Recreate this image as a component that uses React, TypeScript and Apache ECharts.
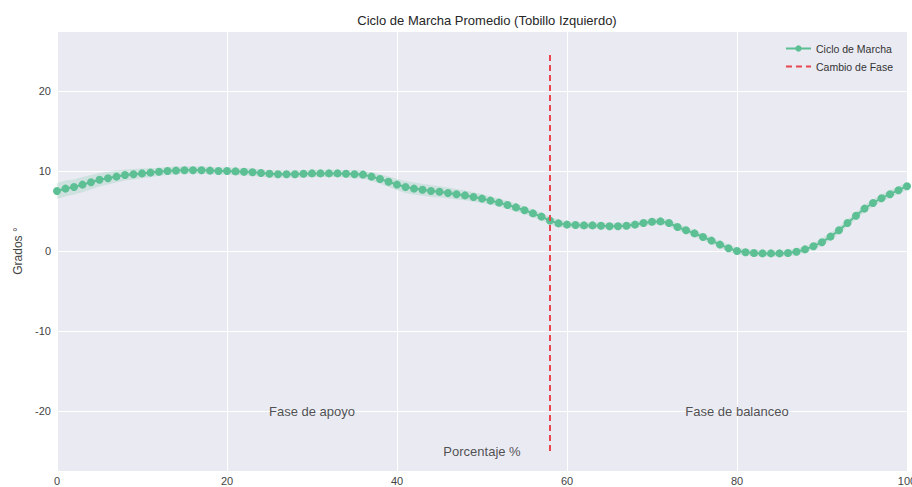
import React, { useEffect, useRef } from "react";
import * as echarts from "echarts";

const percent: number[] = Array.from({ length: 101 }, (_, i) => i);

const gradosMedia: number[] = [
  7.5, 7.8, 8.0, 8.3, 8.6, 8.9, 9.1, 9.3, 9.5, 9.6,
  9.7, 9.8, 9.9, 10.0, 10.05, 10.1, 10.1, 10.1, 10.05, 10.0,
  10.0, 9.95, 9.9, 9.85, 9.75, 9.65, 9.6, 9.6, 9.6, 9.65,
  9.7, 9.7, 9.7, 9.7, 9.65, 9.6, 9.55, 9.3, 9.0, 8.65,
  8.3, 8.0, 7.8, 7.65, 7.5, 7.4, 7.25, 7.1, 6.95, 6.75,
  6.55, 6.3, 6.05, 5.75, 5.45, 5.1, 4.7, 4.3, 3.8, 3.45,
  3.3, 3.25, 3.2, 3.2, 3.15, 3.1, 3.1, 3.15, 3.3, 3.5,
  3.65, 3.7, 3.5, 3.0, 2.6, 2.2, 1.75, 1.3, 0.8, 0.35,
  0.0, -0.15, -0.25, -0.3, -0.3, -0.3, -0.25, -0.1, 0.2, 0.6,
  1.1, 1.8, 2.6, 3.5, 4.4, 5.3, 6.0, 6.6, 7.1, 7.6,
  8.1,
];

const gradosDispersion: number[] = [
  1.0, 1.0, 0.95, 0.95, 0.9, 0.85, 0.8, 0.75, 0.7, 0.65,
  0.6, 0.55, 0.5, 0.5, 0.5, 0.45, 0.45, 0.45, 0.45, 0.45,
  0.45, 0.45, 0.45, 0.45, 0.45, 0.45, 0.45, 0.45, 0.45, 0.45,
  0.45, 0.45, 0.45, 0.45, 0.45, 0.5, 0.5, 0.55, 0.6, 0.65,
  0.7, 0.75, 0.75, 0.75, 0.75, 0.7, 0.7, 0.65, 0.6, 0.6,
  0.55, 0.5, 0.5, 0.5, 0.5, 0.45, 0.45, 0.45, 0.45, 0.45,
  0.4, 0.4, 0.4, 0.4, 0.4, 0.4, 0.4, 0.4, 0.4, 0.4,
  0.4, 0.4, 0.4, 0.4, 0.4, 0.4, 0.4, 0.4, 0.4, 0.4,
  0.4, 0.4, 0.4, 0.4, 0.4, 0.4, 0.4, 0.4, 0.4, 0.4,
  0.45, 0.45, 0.45, 0.45, 0.45, 0.45, 0.45, 0.45, 0.45, 0.45,
  0.45,
];

const cambioFaseX = 58;
const cambioFaseY: number[] = [-25, 25];

const anotaciones: { texto: string; x: number; y: number; size: number }[] = [
  { texto: "Fase de apoyo", x: 30, y: -20, size: 13 },
  { texto: "Fase de balanceo", x: 80, y: -20, size: 13 },
  { texto: "Porcentaje %", x: 50, y: -25, size: 13 },
];

const xTicks = { min: 0, max: 100, interval: 20 };
const yRange = { min: -27.5, max: 27.5 };

const GREEN = "#5dbf94";
const RED = "#e8454f";
const FONT = "Liberation Sans, Arial, sans-serif";

export default function App() {
  const ref = useRef<HTMLDivElement>(null);

  useEffect(() => {
    document.body.style.margin = "0";
    if (!ref.current) return;
    const chart = echarts.init(ref.current, null, { renderer: "svg" });

    const bandData = percent.map((x, i) => [
      x,
      gradosMedia[i] - gradosDispersion[i],
      gradosMedia[i] + gradosDispersion[i],
    ]);

    chart.setOption({
      animation: false,
      backgroundColor: "#ffffff",
      title: {
        text: "Ciclo de Marcha Promedio (Tobillo Izquierdo)",
        left: 482,
        textAlign: "center",
        top: 9,
        textStyle: {
          fontFamily: FONT,
          fontSize: 13,
          fontWeight: "normal",
          color: "#262626",
        },
      },
      legend: {
        data: [
          { name: "Ciclo de Marcha" },
          { name: "Cambio de Fase", itemStyle: { opacity: 0 } },
        ],
        orient: "vertical",
        right: 14,
        top: 38,
        itemWidth: 25,
        itemHeight: 8,
        itemGap: 7,
        textStyle: { fontFamily: FONT, fontSize: 10.5, color: "#333" },
      },
      grid: {
        left: 57,
        right: 5,
        top: 31,
        bottom: 16,
        show: true,
        backgroundColor: "#eaeaf2",
        borderWidth: 0,
        containLabel: false,
        outerBoundsMode: "none",
      },
      xAxis: {
        type: "value",
        min: xTicks.min,
        max: xTicks.max,
        interval: xTicks.interval,
        axisLine: { show: false },
        axisTick: { show: false },
        axisLabel: {
          fontFamily: FONT,
          fontSize: 11,
          color: "#444",
          margin: 4,
        },
        splitLine: { show: true, lineStyle: { color: "#ffffff", width: 1 } },
      },
      yAxis: {
        type: "value",
        min: yRange.min,
        max: yRange.max,
        splitNumber: 5,
        name: "Grados °",
        nameLocation: "middle",
        nameGap: 32,
        nameTextStyle: { fontFamily: FONT, fontSize: 12, color: "#444" },
        axisLine: { show: false },
        axisTick: { show: false },
        axisLabel: {
          fontFamily: FONT,
          fontSize: 11,
          color: "#444",
          margin: 6,
          showMinLabel: false,
          showMaxLabel: false,
        },
        splitLine: { show: true, lineStyle: { color: "#ffffff", width: 1 } },
      },
      series: [
        {
          type: "custom",
          name: "banda",
          silent: true,
          z: 1,
          data: bandData,
          renderItem: (params: any, api: any) => {
            if (params.dataIndex !== 0) return null;
            const upper = bandData.map((d) => api.coord([d[0], d[2]]));
            const lower = bandData
              .slice()
              .reverse()
              .map((d) => api.coord([d[0], d[1]]));
            return {
              type: "polygon",
              shape: { points: upper.concat(lower) },
              style: { fill: GREEN, opacity: 0.2 },
            };
          },
          encode: { x: 0, y: [1, 2] },
        },
        {
          type: "line",
          name: "Ciclo de Marcha",
          z: 3,
          data: percent.map((x, i) => [x, gradosMedia[i]]),
          symbol: "circle",
          symbolSize: 8,
          showSymbol: true,
          lineStyle: { color: GREEN, width: 2 },
          itemStyle: { color: GREEN },
        },
        {
          type: "line",
          name: "Cambio de Fase",
          z: 4,
          data: cambioFaseY.map((y) => [cambioFaseX, y]),
          showSymbol: false,
          symbol: "none",
          lineStyle: { color: RED, width: 2, type: [6, 4] },
          itemStyle: { color: RED },
        },
        {
          type: "scatter",
          name: "anotaciones",
          silent: true,
          symbolSize: 0,
          z: 5,
          data: anotaciones.map((a) => ({
            value: [a.x, a.y],
            name: a.texto,
            label: { fontSize: a.size },
          })),
          label: {
            show: true,
            position: "inside",
            formatter: "{b}",
            fontFamily: FONT,
            color: "#262626",
            align: "center",
            verticalAlign: "middle",
          },
        },
      ],
    });

    return () => chart.dispose();
  }, []);

  return <div ref={ref} style={{ width: 912, height: 487 }} />;
}
